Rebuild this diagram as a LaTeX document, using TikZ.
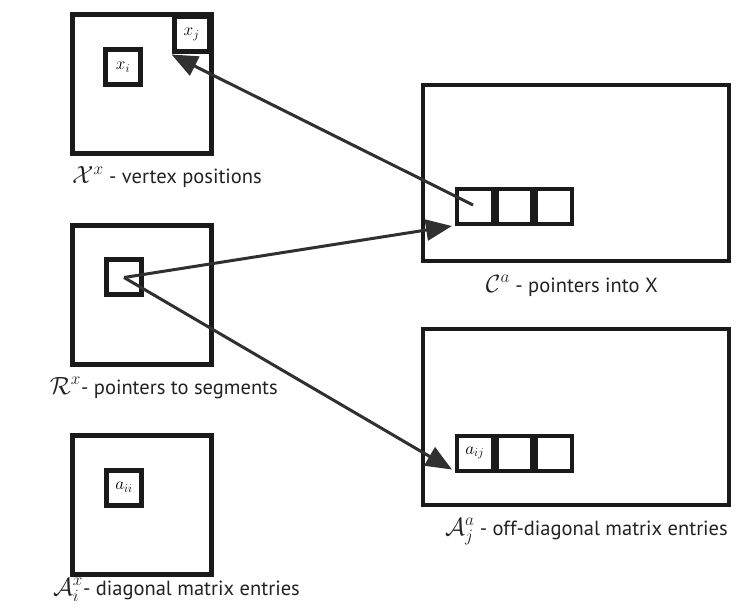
\documentclass[tikz,border=0pt]{standalone}
\usepackage{fontspec}
\setmainfont{PT Sans}
\usetikzlibrary{arrows.meta}
\definecolor{ink}{HTML}{1A1A1A}
\definecolor{wire}{HTML}{303030}
\definecolor{txt}{HTML}{222222}
\newcommand{\bigsym}[1]{{\fontsize{25}{25}\selectfont$#1$}}
\begin{document}
\begin{tikzpicture}[x=1pt,y=-1pt,
  bigsq/.style={draw=ink,line width=5pt,minimum size=139pt,inner sep=0pt},
  cellsq/.style={draw=ink,line width=5pt,minimum size=35pt,inner sep=0pt,
    font=\fontsize{18}{18}\selectfont},
  panel/.style={draw=ink,line width=4pt,minimum width=306pt,minimum height=176pt,inner sep=0pt},
  slot/.style={draw=ink,line width=4pt,minimum width=35.7pt,minimum height=35pt,inner sep=0pt,
    font=\fontsize{18}{18}\selectfont},
  ptr/.style={draw=wire,line width=3pt,-{Triangle[length=26pt,width=21pt]}},
  caption/.style={text=txt,font=\fontsize{20.5}{20.5}\selectfont,inner sep=0pt}]
\useasboundingbox (0,0) rectangle (736,612);

% left column: square arrays
\node[bigsq] (X) at (142,84) {};
\node[cellsq] (xi) at (123,67) {$x_i$};
\node[cellsq,anchor=north east] (xj) at ([xshift=-2.5pt,yshift=-2.5pt]X.north east) {$x_j$};

\node[bigsq] (R) at (142,295) {};
\node[cellsq] (rs) at (124,277.5) {};

\node[bigsq] (D) at (142,505) {};
\node[cellsq] (aii) at (124,487.5) {$a_{ii}$};

% right column: segment arrays
\node[panel] (C) at (576,173) {};
\node[slot] (c1) at (474.8,206.5) {};
\node[slot,anchor=west] (c2) at (c1.east) {};
\node[slot,anchor=west] (c3) at (c2.east) {};

\node[panel] (A) at (576,417) {};
\node[slot] (a1) at (474.8,453) {$a_{ij}$};
\node[slot,anchor=west] (a2) at (a1.east) {};
\node[slot,anchor=west] (a3) at (a2.east) {};

% captions
\node[caption,anchor=base east] (lx) at (262,184) {\bigsym{\mathcal{X}^x} - vertex positions};
\node[caption,anchor=base east] (lr) at (278,394) {\bigsym{\mathcal{R}^x}- pointers to segments};
\node[caption,anchor=base east] (ld) at (300,595) {\bigsym{\mathcal{A}_i^x}- diagonal matrix entries};
\node[caption,anchor=base east] (lc) at (658,292) {\bigsym{\mathcal{C}^a} - pointers into X};
\node[caption,anchor=base east] (la) at (728,535) {\bigsym{\mathcal{A}_j^a} - off-diagonal matrix entries};

% pointers
\coordinate (cstart) at (473,205);
\draw[ptr] (cstart) -- (xj.south west);
\draw[ptr] (rs.center) -- ([xshift=-3pt]c1.south west);
\draw[ptr] (rs.center) -- ([xshift=-3pt,yshift=3pt]a1.south west);
\end{tikzpicture}
\end{document}
